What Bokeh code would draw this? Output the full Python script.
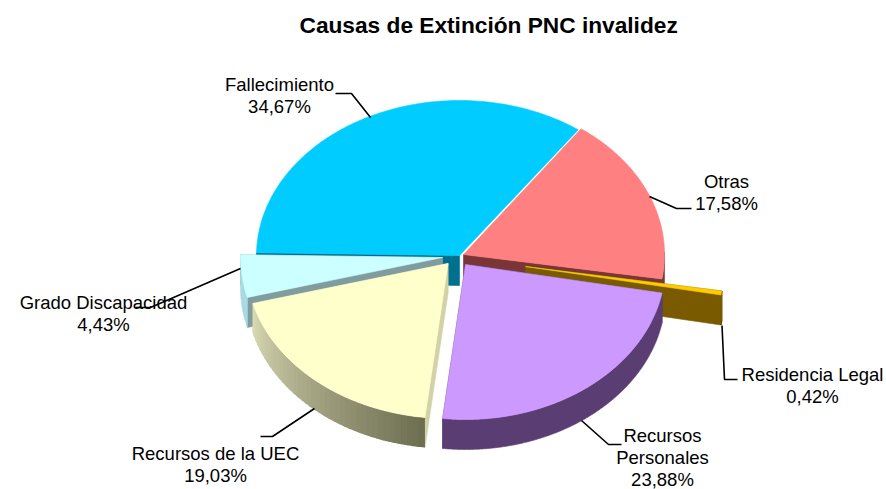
import numpy as np
from bokeh.plotting import figure
from bokeh.models import Range1d, ColumnDataSource
from bokeh.embed import file_html
from bokeh.resources import INLINE
from bokeh.core.properties import value

title = "Causas de Extinción PNC invalidez"
causes = ["Fallecimiento", "Otras", "Residencia Legal", "Recursos Personales", "Recursos de la UEC", "Grado Discapacidad"]
shares = [34.67, 17.58, 0.42, 23.88, 19.03, 4.43]
share_text = ["34,67%", "17,58%", "0,42%", "23,88%", "19,03%", "4,43%"]
label_lines = ["Fallecimiento", "Otras", "Residencia Legal", "Recursos\nPersonales", "Recursos de la UEC", "Grado Discapacidad"]

START = -89.0
RY, DEPTH = 155.0, 30.0
radius_x = [203, 201, 199, 200, 202, 202]
apex_x = [459, 463, 525, 465, 447.5, 442]
apex_y = [255, 254, 266, 264, 263, 257]
top_col = ["#00CCFF", "#FF8080", "#FFCC00", "#CC99FF", "#FFFFCC", "#CCFFFF"]
wall_col = ["#00708F", "#7A3636", "#7A5A00", "#5A3D72", "#D2D2A6", "#7F9C9F"]
rim_from = ["#006080", "#7A3636", "#7A5A00", "#5A3D72", "#DADAB4", "#A8DAE4"]
rim_to = ["#006080", "#7A3636", "#7A5A00", "#5A3D72", "#6E6E52", "#A8DAE4"]
label_x = [279, 726, 812, 662, 215, 103]
label_y = [95, 192, 385, 457, 464, 313]
leader_x = [[335, 351, 370], [691, 676, 649], [721.5, 724, 737], [621, 608, 581], [260, 272, 314], [135, 150, 240]]
leader_y = [[93, 93, 117], [208, 208, 196], [325, 379, 379], [444, 444, 420], [436, 436, 408], [307, 307, 268]]

p = figure(width=886, height=489, output_backend="svg", toolbar_location=None,
           x_range=Range1d(0, 886), y_range=Range1d(489, 42), min_border=0, min_border_top=42,
           title=title)
p.title.text_font = "Liberation Sans"
p.title.text_font_size = "22.7px"
p.title.text_font_style = "bold"
p.title.text_color = "black"
p.title.align = "left"
p.title.offset = 299
p.axis.visible = False
p.grid.visible = False
p.outline_line_color = None

fracs = np.array(shares) / sum(shares) * 360
ends = START + np.cumsum(fracs)
starts = ends - fracs


def pt(i, deg):
    t = np.radians(deg)
    return apex_x[i] + radius_x[i] * np.sin(t), apex_y[i] - RY * np.cos(t)


def blend(a, b, f):
    ca = [int(a[k:k + 2], 16) for k in (1, 3, 5)]
    cb = [int(b[k:k + 2], 16) for k in (1, 3, 5)]
    return "#%02x%02x%02x" % tuple(int(round(u + (v - u) * f)) for u, v in zip(ca, cb))


def fill(xs, ys, col, stroke=True):
    p.patch(xs, ys, fill_color=col, line_color=col if stroke else None, line_width=0.6)


def slice_draw(i):
    a, b = starts[i], ends[i]
    ax, ay = apex_x[i], apex_y[i]
    for edge in (a, b):
        ex, ey = pt(i, edge)
        if 90 < (edge % 360) < 360:
            fill([ax, ex, ex, ax], [ay, ey, ey + DEPTH, ay + DEPTH], wall_col[i])
    th = np.linspace(a, b, 240)
    th = th[np.cos(np.radians(th)) < 0.02]
    if len(th) > 1:
        if rim_from[i] == rim_to[i]:
            rx, ry = pt(i, th)
            fill(np.r_[rx, rx[::-1]], np.r_[ry, ry[::-1] + DEPTH], rim_from[i])
        else:
            step = 6
            for k in range(0, len(th) - 1, step):
                seg = th[k:k + step + 3]
                rx, ry = pt(i, seg)
                col = blend(rim_to[i], rim_from[i], k / (len(th) - 1))
                fill(np.r_[rx, rx[::-1]], np.r_[ry, ry[::-1] + DEPTH], col, stroke=False)
    tx, ty = pt(i, np.linspace(a, b, 120))
    fill(np.r_[ax, tx], np.r_[ay, ty], top_col[i])


for i in [0, 1, 2, 5, 3, 4]:
    slice_draw(i)

for lx, ly in zip(leader_x, leader_y):
    p.line(lx, ly, line_color="black", line_width=1.6)

texts = [f"{n}\n{s}" for n, s in zip(label_lines, share_text)]
src = ColumnDataSource(dict(x=label_x, y=label_y, t=texts))
p.text("x", "y", text="t", source=src, text_font=value("Liberation Sans"), text_font_size="18.5px",
       text_align="center", text_baseline="middle", text_color="black", text_line_height=1.05)

open("out.html", "w").write(file_html(p, INLINE))
